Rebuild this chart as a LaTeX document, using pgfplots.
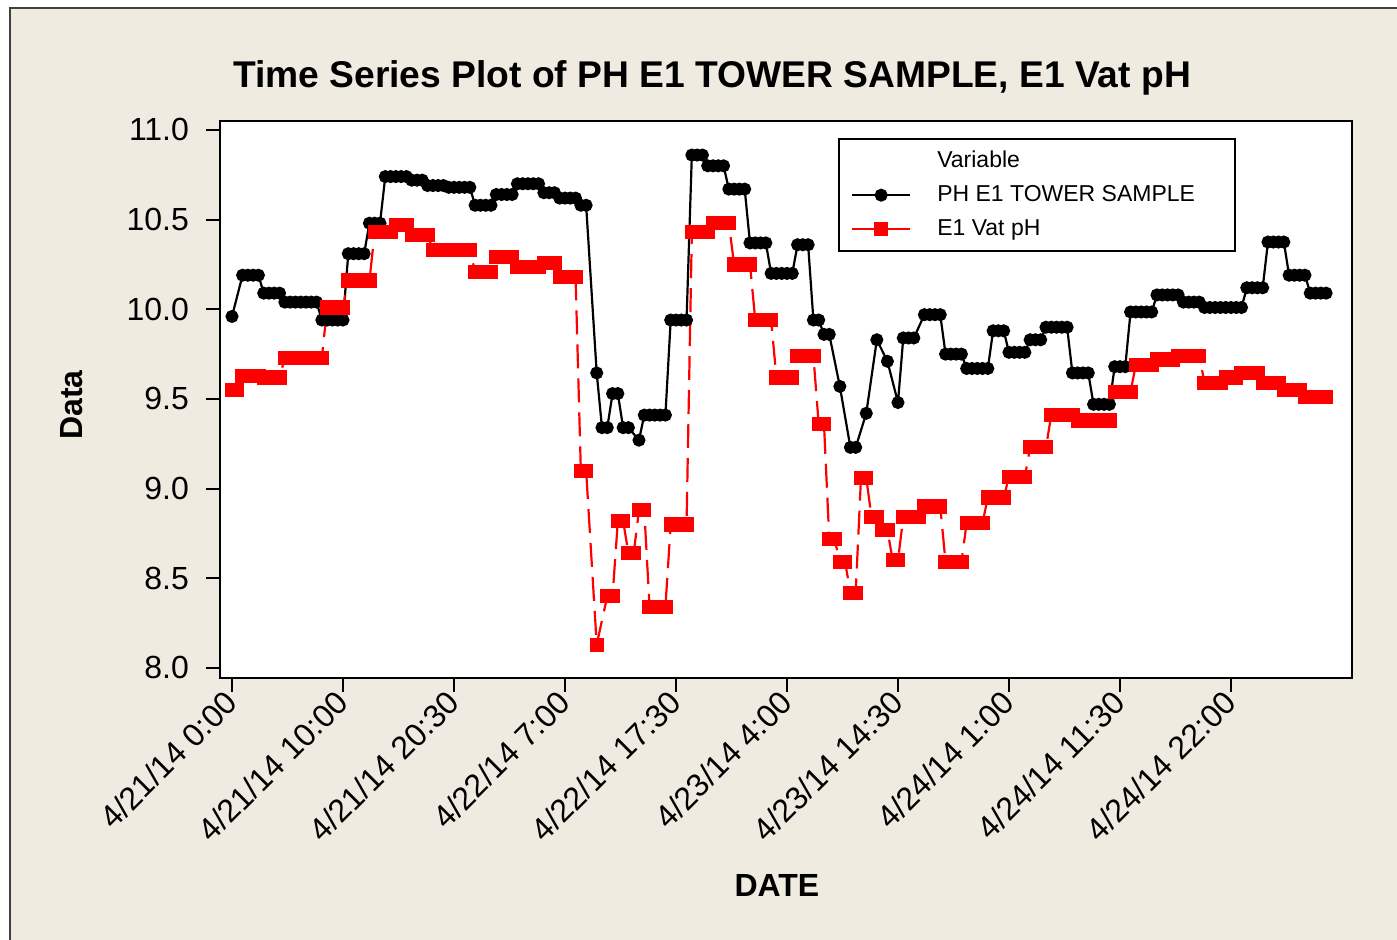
\documentclass[border=0pt]{standalone}
\usepackage{fontspec}
\setmainfont{Liberation Sans}
\usepackage{pgfplots}
\pgfplotsset{compat=1.18}
\usepackage{pgfplotstable}
\definecolor{bgbeige}{HTML}{EFEBE1}
\definecolor{mtred}{HTML}{FF0000}

\pgfplotstableread{
x y
0 9.96
2 10.19
3 10.19
4 10.19
5 10.19
6 10.09
7 10.09
8 10.09
9 10.09
10 10.04
11 10.04
12 10.04
13 10.04
14 10.04
15 10.04
16 10.04
17 9.94
18 9.94
19 9.94
20 9.94
21 9.94
22 10.31
23 10.31
24 10.31
25 10.31
26 10.48
27 10.48
28 10.48
29 10.74
30 10.74
31 10.74
32 10.74
33 10.74
34 10.72
35 10.72
36 10.72
37 10.69
38 10.69
39 10.69
40 10.69
41 10.68
42 10.68
43 10.68
44 10.68
45 10.68
46 10.58
47 10.58
48 10.58
49 10.58
50 10.64
51 10.64
52 10.64
53 10.64
54 10.70
55 10.70
56 10.70
57 10.70
58 10.70
59 10.65
60 10.65
61 10.65
62 10.62
63 10.62
64 10.62
65 10.62
66 10.58
67 10.58
69 9.645
70 9.34
71 9.34
72 9.53
73 9.53
74 9.34
75 9.34
77 9.27
78 9.41
79 9.41
80 9.41
81 9.41
82 9.41
83 9.94
84 9.94
85 9.94
86 9.94
87 10.86
88 10.86
89 10.86
90 10.80
91 10.80
92 10.80
93 10.80
94 10.67
95 10.67
96 10.67
97 10.67
98 10.37
99 10.37
100 10.37
101 10.37
102 10.20
103 10.20
104 10.20
105 10.20
106 10.20
107 10.36
108 10.36
109 10.36
110 9.94
111 9.94
112 9.86
113 9.86
115 9.57
117 9.23
118 9.23
120 9.42
122 9.83
124 9.71
126 9.48
127 9.84
128 9.84
129 9.84
131 9.97
132 9.97
133 9.97
134 9.97
135 9.75
136 9.75
137 9.75
138 9.75
139 9.67
140 9.67
141 9.67
142 9.67
143 9.67
144 9.88
145 9.88
146 9.88
147 9.76
148 9.76
149 9.76
150 9.76
151 9.83
152 9.83
153 9.83
154 9.90
155 9.90
156 9.90
157 9.90
158 9.90
159 9.645
160 9.645
161 9.645
162 9.645
163 9.47
164 9.47
165 9.47
166 9.47
167 9.68
168 9.68
169 9.68
170 9.985
171 9.985
172 9.985
173 9.985
174 9.985
175 10.08
176 10.08
177 10.08
178 10.08
179 10.08
180 10.04
181 10.04
182 10.04
183 10.04
184 10.01
185 10.01
186 10.01
187 10.01
188 10.01
189 10.01
190 10.01
191 10.01
192 10.12
193 10.12
194 10.12
195 10.12
196 10.375
197 10.375
198 10.375
199 10.375
200 10.19
201 10.19
202 10.19
203 10.19
204 10.09
205 10.09
206 10.09
207 10.09
}\tower

\pgfplotstableread{
x y
0 9.55
1 9.55
2 9.63
3 9.63
4 9.63
5 9.63
6 9.62
7 9.62
8 9.62
9 9.62
10 9.73
11 9.73
12 9.73
13 9.73
14 9.73
15 9.73
16 9.73
17 9.73
18 10.01
19 10.01
20 10.01
21 10.01
22 10.16
23 10.16
24 10.16
25 10.16
26 10.16
27 10.43
28 10.43
29 10.43
30 10.43
31 10.47
32 10.47
33 10.47
34 10.415
35 10.415
36 10.415
37 10.415
38 10.33
39 10.33
40 10.33
41 10.33
42 10.33
43 10.33
44 10.33
45 10.33
46 10.21
47 10.21
48 10.21
49 10.21
50 10.29
51 10.29
52 10.29
53 10.29
54 10.235
55 10.235
56 10.235
57 10.235
58 10.235
59 10.26
60 10.26
61 10.26
62 10.18
63 10.18
64 10.18
65 10.18
66 9.10
67 9.10
69 8.13
71 8.40
72 8.40
73 8.82
74 8.82
75 8.64
76 8.64
77 8.88
78 8.88
79 8.34
80 8.34
81 8.34
82 8.34
83 8.80
84 8.80
85 8.80
86 8.80
87 10.43
88 10.43
89 10.43
90 10.43
91 10.48
92 10.48
93 10.48
94 10.48
95 10.25
96 10.25
97 10.25
98 10.25
99 9.94
100 9.94
101 9.94
102 9.94
103 9.62
104 9.62
105 9.62
106 9.62
107 9.74
108 9.74
109 9.74
110 9.74
111 9.36
112 9.36
113 8.72
114 8.72
115 8.59
116 8.59
117 8.42
118 8.42
119 9.06
120 9.06
121 8.84
122 8.84
123 8.77
124 8.77
125 8.60
126 8.60
127 8.84
128 8.84
129 8.84
130 8.84
131 8.90
132 8.90
133 8.90
134 8.90
135 8.59
136 8.59
137 8.59
138 8.59
139 8.81
140 8.81
141 8.81
142 8.81
143 8.95
144 8.95
145 8.95
146 8.95
147 9.065
148 9.065
149 9.065
150 9.065
151 9.23
152 9.23
153 9.23
154 9.23
155 9.41
156 9.41
157 9.41
158 9.41
159 9.41
160 9.38
161 9.38
162 9.38
163 9.38
164 9.38
165 9.38
166 9.38
167 9.54
168 9.54
169 9.54
170 9.54
171 9.69
172 9.69
173 9.69
174 9.69
175 9.72
176 9.72
177 9.72
178 9.72
179 9.74
180 9.74
181 9.74
182 9.74
183 9.74
184 9.59
185 9.59
186 9.59
187 9.59
188 9.62
189 9.62
190 9.62
191 9.645
192 9.645
193 9.645
194 9.645
195 9.59
196 9.59
197 9.59
198 9.59
199 9.55
200 9.55
201 9.55
202 9.55
203 9.51
204 9.51
205 9.51
206 9.51
207 9.51
}\vat

\begin{document}
\begin{tikzpicture}
\useasboundingbox (0,0) rectangle (698.5pt,470pt);
\fill[white] (0,0) rectangle (698.5pt,470pt);
\fill[bgbeige] (5pt,0) rectangle (698.5pt,466pt);
\draw[line width=1pt, black!75] (5pt,0) -- (5pt,466pt) -- (698.5pt,466pt);
\begin{axis}[
  at={(110pt,131pt)}, anchor=south west,
  scale only axis, width=566pt, height=278.5pt,
  xmin=-2.27, xmax=211.9, ymin=7.944, ymax=11.05,
  axis background/.style={fill=white},
  axis line style={line width=1.2pt},
  tick align=outside, major tick length=7pt,
  tick style={black, line width=0.9pt},
  xtick pos=bottom, ytick pos=left,
  ytick={8,8.5,9,9.5,10,10.5,11},
  yticklabel style={xshift=-5pt, /pgf/number format/fixed, /pgf/number format/fixed zerofill, /pgf/number format/precision=1},
  /pgf/number format/assume math mode=true,
  ticklabel style={font=\fontsize{16}{19}\selectfont},
  xtick={0,21,42,63,84,105,126,147,168,189},
  xticklabels={4/21/14 0:00, 4/21/14 10:00, 4/21/14 20:30, 4/22/14 7:00, 4/22/14 17:30, 4/23/14 4:00, 4/23/14 14:30, 4/24/14 1:00, 4/24/14 11:30, 4/24/14 22:00},
  xticklabel style={rotate=45, anchor=east, xshift=1.5pt, yshift=-1.5pt},
  xlabel={DATE}, ylabel={Data},
  xlabel style={font=\bfseries\fontsize{16}{19}\selectfont, at={(axis description cs:0.492,-0.373)}, anchor=center},
  ylabel style={font=\bfseries\fontsize{16}{19}\selectfont, at={(axis description cs:-0.1307,0.49)}, anchor=center, rotate=0},
  every axis title shift=-1.5pt,
  title={Time Series Plot of PH E1 TOWER SAMPLE, E1 Vat pH},
  title style={font=\bfseries\fontsize{18.6}{22}\selectfont, at={(axis description cs:0.4346,1.0826)}, anchor=center, yshift=0pt},
  legend cell align=left,
  legend style={at={(rel axis cs:0.546,0.9695)}, anchor=north west, draw=black, line width=1pt, fill=white,
    font=\fontsize{11.5}{13.5}\selectfont, row sep=3.5pt, inner xsep=6pt, inner ysep=4pt,
    /tikz/every odd column/.append style={column sep=11pt}},
  legend image code/.code={\draw[mark repeat=2,mark phase=2,#1] plot coordinates {(0pt,0pt) (14.5pt,0pt) (29pt,0pt)};},
]
\addlegendimage{empty legend}
\addlegendentry{Variable}
\addplot[black, line width=1.1pt, mark=*, mark size=2.7pt] table[x=x,y=y]{\tower};
\addlegendentry{PH E1 TOWER SAMPLE\rule{12pt}{0pt}}
\addplot[mtred, line width=1.1pt, dash pattern=on 12pt off 5pt, mark=square*, mark size=3pt, mark options={solid}] table[x=x,y=y]{\vat};
\addlegendentry{E1 Vat pH}
\end{axis}
\end{tikzpicture}
\end{document}
